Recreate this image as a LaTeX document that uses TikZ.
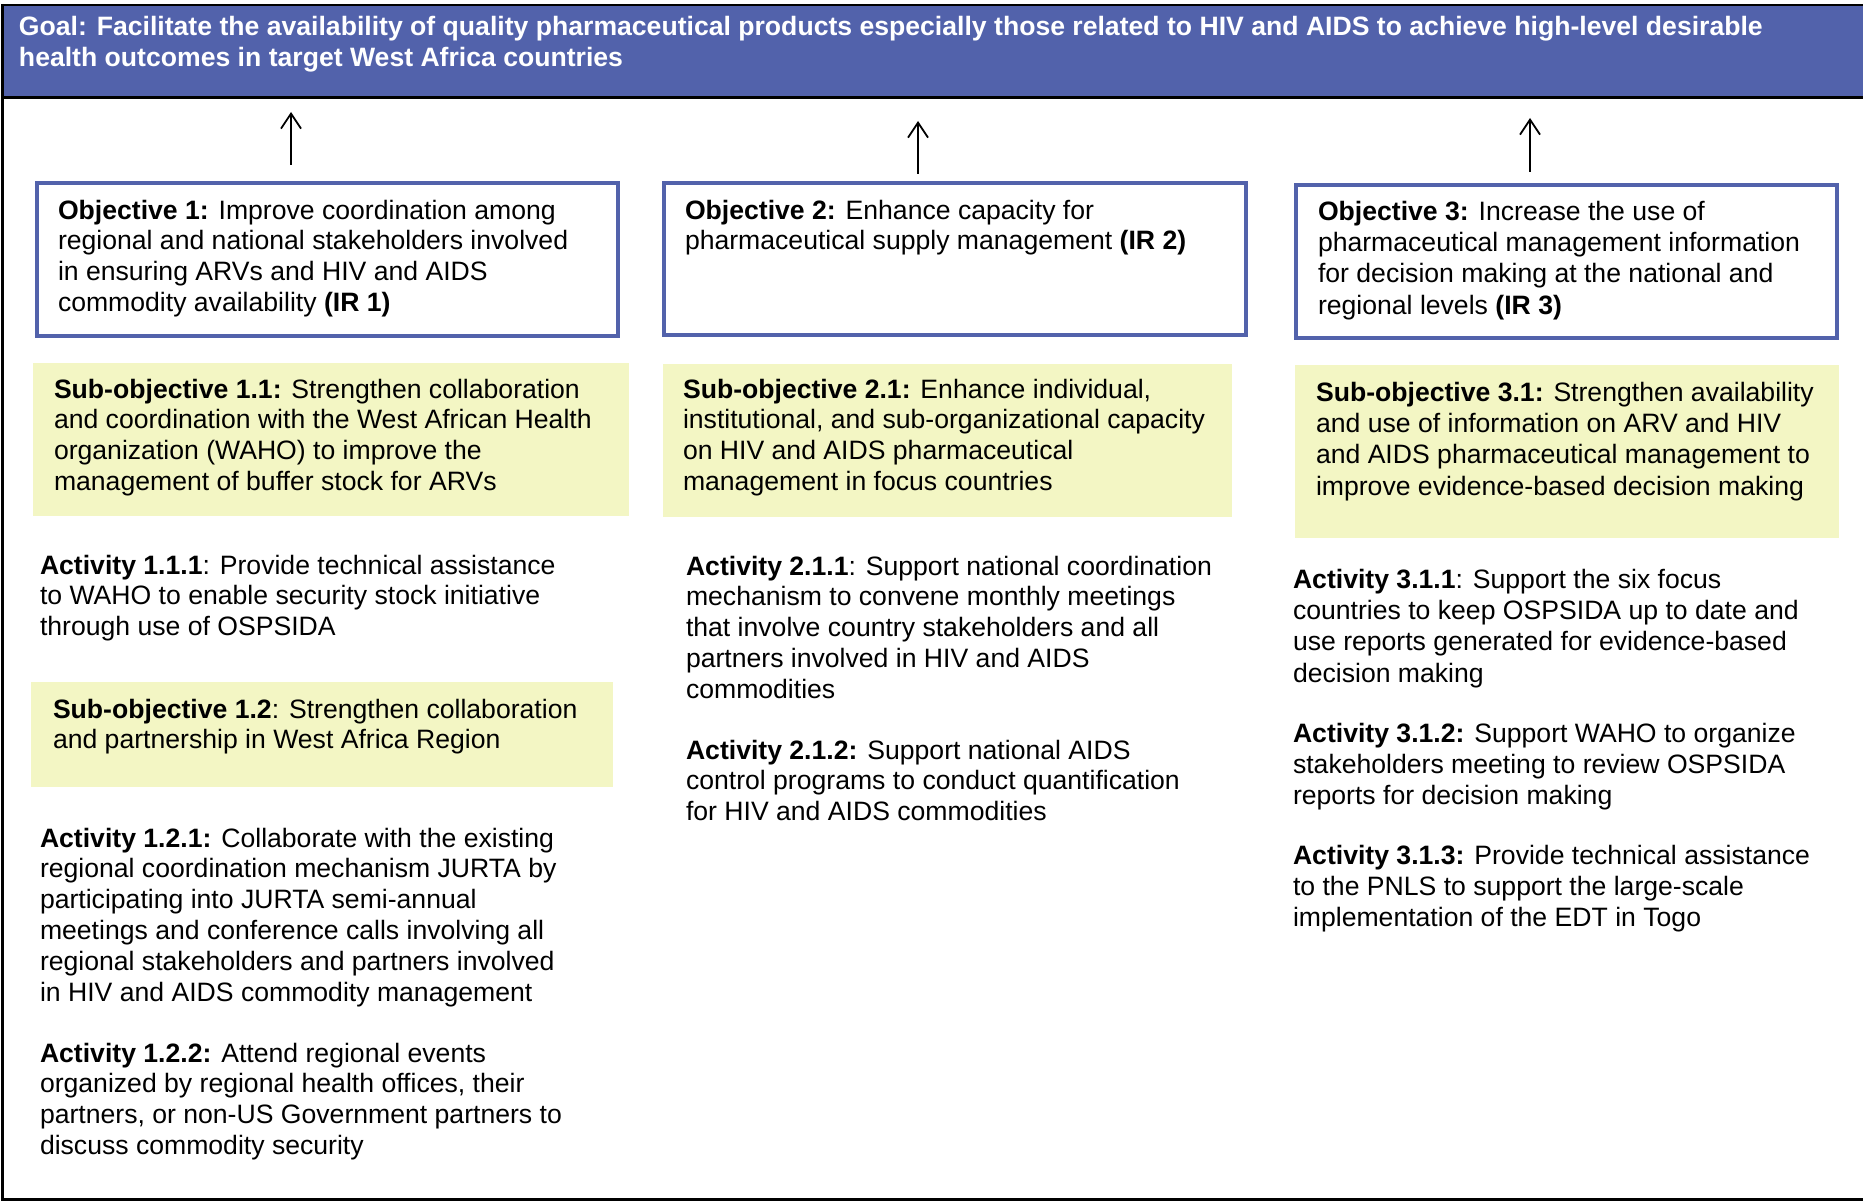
\documentclass[tikz,border=0pt]{standalone}
\usepackage{fontspec}
\setmainfont{Liberation Sans}
\usetikzlibrary{arrows.meta}
\definecolor{bannerblue}{RGB}{82,98,171}
\definecolor{subyellow}{RGB}{243,246,196}
\newcommand{\firststrut}{\rule{0pt}{22pt}}
\begin{document}
\begin{tikzpicture}[x=1pt,y=-1pt,
  txt/.style={anchor=north west, align=left, inner sep=0pt, outer sep=0pt, yshift=22pt},
  cA/.style={txt, font=\fontsize{26.6}{30.8}\selectfont},
  cB/.style={txt, font=\fontsize{26.6}{30.8}\selectfont},
  cC/.style={txt, font=\fontsize{26.6}{31.4}\selectfont},
  goaltxt/.style={txt, text=white, font=\fontsize{26.6}{30.8}\selectfont\bfseries},
  objbox/.style={draw=bannerblue, line width=4pt, fill=white, anchor=north west, inner sep=0pt, outer sep=0pt},
  subbox/.style={fill=subyellow, draw=none, anchor=north west, inner sep=0pt, outer sep=0pt},
  arw/.style={-{Straight Barb[length=15pt,width=20pt]}, line width=1.8pt},
  frame/.style={line width=3pt, black}]
\useasboundingbox (0,0) rectangle (1863,1201);
% banner
\node (banner) [fill=bannerblue, anchor=north west, minimum width=1861pt, minimum height=93pt, inner sep=0pt, outer sep=0pt] at (2,5) {};
\node (goal) [goaltxt] at (19,35.5) {\firststrut Goal: Facilitate the availability of quality pharmaceutical products especially those related to HIV and AIDS to achieve high-level desirable\\health outcomes in target West Africa countries};
\draw[line width=2pt] (banner.north east) -- (banner.north west);
\draw[frame] (banner.south west) -- (banner.south east);
\draw[frame] (2,4) -- (2,1199.5) -- (1863,1199.5);
% objective boxes
\node (o1box) [objbox, minimum width=581pt, minimum height=153pt] at (37,183) {};
\node (o2box) [objbox, minimum width=582pt, minimum height=152pt] at (664,183) {};
\node (o3box) [objbox, minimum width=541pt, minimum height=153pt] at (1296,185) {};
% sub-objective boxes
\node (s11box) [subbox, minimum width=596pt, minimum height=153pt] at (33,363) {};
\node (s21box) [subbox, minimum width=569pt, minimum height=153pt] at (663,364) {};
\node (s31box) [subbox, minimum width=544pt, minimum height=173pt] at (1295,365) {};
\node (s12box) [subbox, minimum width=582pt, minimum height=105pt] at (31,682) {};
% arrows
\coordinate (a1s) at (291,165); \coordinate (a1t) at (291,112);
\coordinate (a2s) at (918,174); \coordinate (a2t) at (918,121);
\coordinate (a3s) at (1530,172); \coordinate (a3t) at (1530,118);
\draw[arw] (a1s) -- (a1t);
\draw[arw] (a2s) -- (a2t);
\draw[arw] (a3s) -- (a3t);
% objective texts
\node (o1) [cA] at (58,219) {\firststrut\textbf{Objective 1:} Improve coordination among\\regional and national stakeholders involved\\in ensuring ARVs and HIV and AIDS\\commodity availability \textbf{(IR 1)}};
\node (o2) [cB] at (685,219) {\firststrut\textbf{Objective 2:} Enhance capacity for\\pharmaceutical supply management \textbf{(IR 2)}};
\node (o3) [cC] at (1318,220) {\firststrut\textbf{Objective 3:} Increase the use of\\pharmaceutical management information\\for decision making at the national and\\regional levels \textbf{(IR 3)}};
% sub-objective texts
\node (s11) [cA] at (54,398) {\firststrut\textbf{Sub-objective 1.1:} Strengthen collaboration\\and coordination with the West African Health\\organization (WAHO) to improve the\\management of buffer stock for ARVs};
\node (s21) [cB] at (683,398) {\firststrut\textbf{Sub-objective 2.1:} Enhance individual,\\institutional, and sub-organizational capacity\\on HIV and AIDS pharmaceutical\\management in focus countries};
\node (s31) [cC] at (1316,401) {\firststrut\textbf{Sub-objective 3.1:} Strengthen availability\\and use of information on ARV and HIV\\and AIDS pharmaceutical management to\\improve evidence-based decision making};
\node (s12) [cA] at (53,718) {\firststrut\textbf{Sub-objective 1.2}: Strengthen collaboration\\and partnership in West Africa Region};
% activities
\node (a111) [cA] at (40,574) {\firststrut\textbf{Activity 1.1.1}: Provide technical assistance\\to WAHO to enable security stock initiative\\through use of OSPSIDA};
\node (a121) [cA] at (40,847) {\firststrut\textbf{Activity 1.2.1:} Collaborate with the existing\\regional coordination mechanism JURTA by\\participating into JURTA semi-annual\\meetings and conference calls involving all\\regional stakeholders and partners involved\\in HIV and AIDS commodity management};
\node (a122) [cA] at (40,1062) {\firststrut\textbf{Activity 1.2.2:} Attend regional events\\organized by regional health offices, their\\partners, or non-US Government partners to\\discuss commodity security};
\node (a211) [cB] at (686,575) {\firststrut\textbf{Activity 2.1.1}: Support national coordination\\mechanism to convene monthly meetings\\that involve country stakeholders and all\\partners involved in HIV and AIDS\\commodities};
\node (a212) [cB] at (686,759) {\firststrut\textbf{Activity 2.1.2:} Support national AIDS\\control programs to conduct quantification\\for HIV and AIDS commodities};
\node (a311) [cC] at (1293,588) {\firststrut\textbf{Activity 3.1.1}: Support the six focus\\countries to keep OSPSIDA up to date and\\use reports generated for evidence-based\\decision making};
\node (a312) [cC] at (1293,742) {\firststrut\textbf{Activity 3.1.2:} Support WAHO to organize\\stakeholders meeting to review OSPSIDA\\reports for decision making};
\node (a313) [cC] at (1293,864) {\firststrut\textbf{Activity 3.1.3:} Provide technical assistance\\to the PNLS to support the large-scale\\implementation of the EDT in Togo};
\end{tikzpicture}
\end{document}
